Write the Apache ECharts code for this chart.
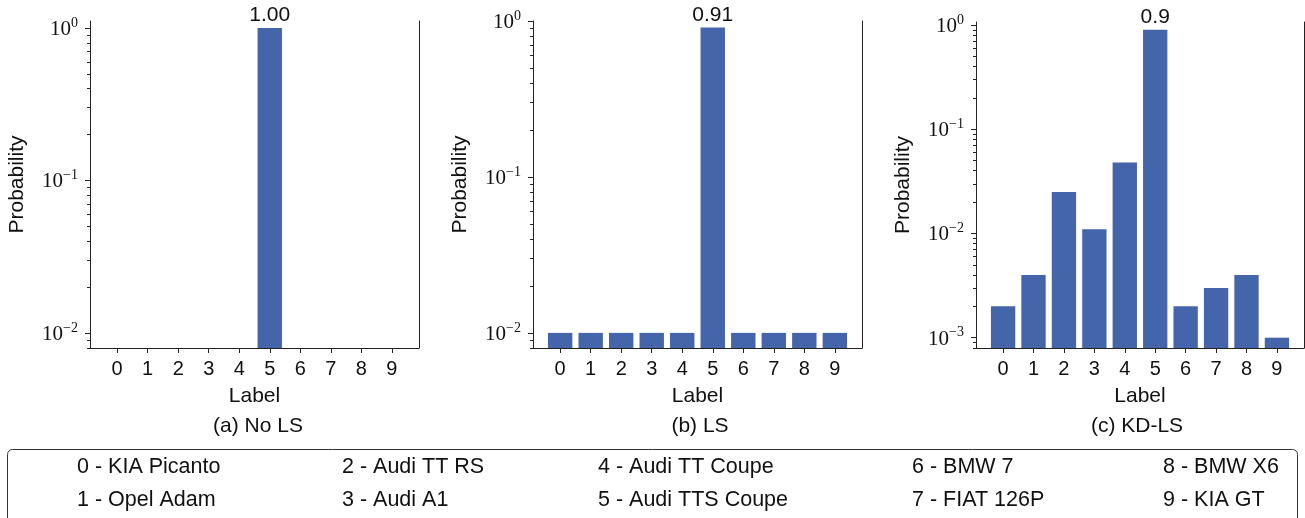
<!DOCTYPE html>
<html><head><meta charset="utf-8">
<script src="https://cdn.jsdelivr.net/npm/echarts@6/dist/echarts.min.js"></script>
<style>html,body{margin:0;padding:0;background:#fff}#c{width:1305px;height:518px}</style>
</head><body><div id="c"></div>
<script>
// ---- data ----
const labels = [0, 1, 2, 3, 4, 5, 6, 7, 8, 9];
const probNoLS = [0, 0, 0, 0, 0, 1.00, 0, 0, 0, 0];
const probLS = [0.01, 0.01, 0.01, 0.01, 0.01, 0.91, 0.01, 0.01, 0.01, 0.01];
const probKDLS = [0.002, 0.004, 0.025, 0.011, 0.048, 0.9, 0.002, 0.003, 0.004, 0.001];
const barTextNoLS = ['', '', '', '', '', '1.00', '', '', '', ''];
const barTextLS = ['', '', '', '', '', '0.91', '', '', '', ''];
const barTextKDLS = ['', '', '', '', '', '0.9', '', '', '', ''];
const captions = ['(a) No LS', '(b) LS', '(c) KD-LS'];
const majorTicksA = [0.01, 0.1, 1];
const majorTicksB = [0.01, 0.1, 1];
const majorTicksC = [0.001, 0.01, 0.1, 1];
const carNames = ['0 - KIA Picanto', '1 - Opel Adam', '2 - Audi TT RS', '3 - Audi A1',
  '4 - Audi TT Coupe', '5 - Audi TTS Coupe', '6 - BMW 7', '7 - FIAT 126P', '8 - BMW X6', '9 - KIA GT'];

// ---- layout ----
const SANS = 'Liberation Sans, Arial, Helvetica, sans-serif';
const SERIF = 'Liberation Serif, DejaVu Serif, serif';
const BAR = '#4565AA';
const INK = '#111';
const panels = [
  {left: 90, width: 329, top: 21, yMin: 0.00797, yMax: 1.111, probs: probNoLS, texts: barTextNoLS, majors: majorTicksA, capX: 253},
  {left: 533, width: 329, top: 21, yMin: 0.0080, yMax: 1.0, probs: probLS, texts: barTextLS, majors: majorTicksB, capX: 695},
  {left: 976, width: 328, top: 22, yMin: 0.000796, yMax: 1.07, probs: probKDLS, texts: barTextKDLS, majors: majorTicksC, capX: 1132}
];
const BOTTOM = 170;

function minorTicks(lo, hi) {
  const out = [];
  for (let e = Math.floor(Math.log10(lo)); e <= Math.ceil(Math.log10(hi)); e++) {
    for (let m = 2; m <= 9; m++) {
      const v = m * Math.pow(10, e);
      if (v >= lo && v <= hi) out.push(v);
    }
  }
  return out;
}
function sup(v) {
  const e = Math.round(Math.log10(v));
  return '{b|10}{s|' + (e < 0 ? '\u2212' + (-e) : e) + '}';
}
const lineStyle = {color: '#222', width: 1};

const grid = [], xAxis = [], yAxis = [], series = [], title = [];
panels.forEach((p, i) => {
  grid.push({left: p.left, width: p.width, top: p.top, bottom: BOTTOM, containLabel: false});
  xAxis.push({
    gridIndex: i, type: 'value', min: -0.89, max: 9.89,
    axisLine: {show: true, onZero: false, lineStyle},
    splitLine: {show: false},
    axisTick: {show: true, customValues: labels, length: 5, lineStyle},
    axisLabel: {show: true, customValues: labels, fontSize: 20, color: INK, fontFamily: SANS, margin: 11},
    name: 'Label', nameLocation: 'middle', nameGap: 38,
    nameTextStyle: {fontSize: 21, color: INK, fontFamily: SANS}
  });
  yAxis.push({
    gridIndex: i, type: 'log', logBase: 10, min: p.yMin, max: p.yMax, startValue: p.yMin,
    position: 'left',
    axisLine: {show: true, onZero: false, lineStyle},
    splitLine: {show: false},
    axisTick: {show: true, customValues: p.majors, length: 5, lineStyle},
    axisLabel: {
      show: true, customValues: p.majors, margin: 12, color: INK,
      formatter: v => sup(v),
      rich: {
        b: {fontSize: 21, fontFamily: SERIF, color: INK, lineHeight: 24, verticalAlign: 'bottom'},
        s: {fontSize: 14, fontFamily: SERIF, color: INK, lineHeight: 14, verticalAlign: 'top'}
      }
    },
    name: 'Probability', nameLocation: 'middle', nameGap: 62, nameRotate: 90,
    nameTextStyle: {fontSize: 21, color: INK, fontFamily: SANS}
  });
  yAxis.push({
    gridIndex: i, type: 'log', logBase: 10, min: p.yMin, max: p.yMax, position: 'left',
    axisLine: {show: false, onZero: false}, splitLine: {show: false}, axisLabel: {show: false},
    axisTick: {show: true, customValues: minorTicks(p.yMin, p.yMax), length: 3, lineStyle}
  });
  yAxis.push({
    gridIndex: i, type: 'log', logBase: 10, min: p.yMin, max: p.yMax, position: 'right',
    axisLine: {show: true, onZero: false, lineStyle}, splitLine: {show: false},
    axisLabel: {show: false}, axisTick: {show: false}
  });
  series.push({
    type: 'bar', xAxisIndex: i, yAxisIndex: i * 3, barWidth: '80%',
    data: labels.map((l, k) => [l, p.probs[k] > 0 ? p.probs[k] : '-']),
    itemStyle: {color: BAR},
    label: {show: true, position: 'top', distance: 2, fontSize: 21, color: INK, fontFamily: SANS,
      formatter: q => p.texts[q.dataIndex]},
    silent: true, animation: false
  });
  title.push({text: captions[i], left: p.capX, top: 411, textAlign: 'center',
    textStyle: {fontSize: 21, fontWeight: 'normal', color: INK, fontFamily: SANS}});
});

const colX = [77, 342, 598, 912, 1163];
const rowY = [467, 500];
const graphic = [{type: 'rect', shape: {x: 7.5, y: 449.5, width: 1290, height: 90, r: 5},
  style: {fill: '#fff', stroke: '#333', lineWidth: 1}, z: 0}];
carNames.forEach((n, k) => {
  graphic.push({type: 'text', x: colX[Math.floor(k / 2)], y: rowY[k % 2], z: 1,
    style: {text: n, fontSize: 21.5, fontFamily: SANS, fill: INK, verticalAlign: 'middle', align: 'left'}});
});

const chart = echarts.init(document.getElementById('c'), null, {renderer: 'canvas'});
chart.setOption({animation: false, backgroundColor: '#fff', grid, xAxis, yAxis, series, title, graphic});
</script></body></html>
